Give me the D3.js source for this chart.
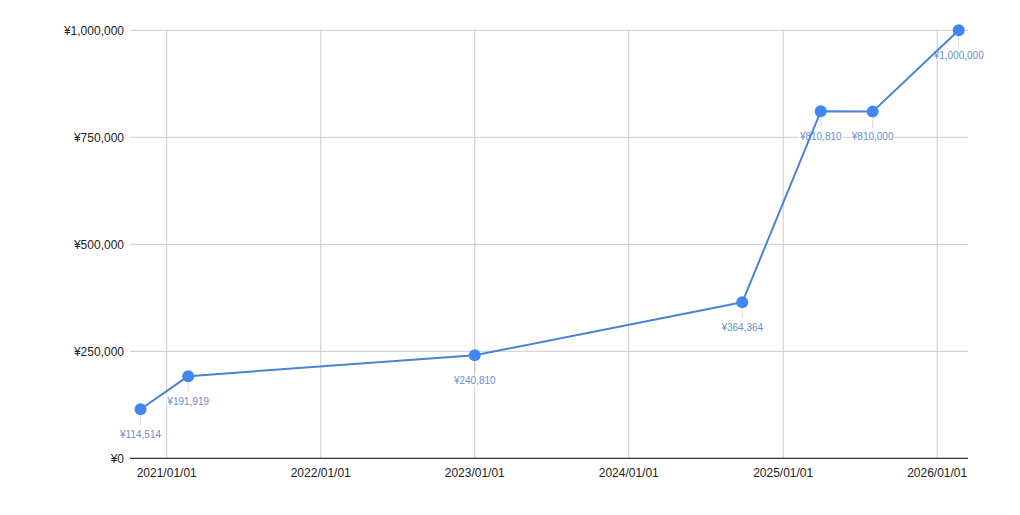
<!DOCTYPE html>
<html>
<head>
<meta charset="utf-8">
<script src="https://cdn.jsdelivr.net/npm/d3@7"></script>
<style>
  html, body { margin: 0; padding: 0; background: #fff; }
  svg { display: block; font-family: "Liberation Sans", Arial, sans-serif; }
</style>
</head>
<body>
<svg id="chart" width="1020" height="515"></svg>
<script>
// values
const dates  = ["2020-10-31", "2021-02-21", "2023-01-01", "2024-09-26", "2025-03-31", "2025-08-01", "2026-02-21"];
const values = [114514, 191919, 240810, 364364, 810810, 810000, 1000000];
const xTicks = ["2021-01-01", "2022-01-01", "2023-01-01", "2024-01-01", "2025-01-01", "2026-01-01"];
const yTicks = [0, 250000, 500000, 750000, 1000000];
const xDomain = ["2020-10-06", "2026-03-15"];

const parse = d3.timeParse("%Y-%m-%d");
const data = dates.map((d, i) => ({ date: parse(d), value: values[i] }));

const svg = d3.select("#chart");
const plotL = 130, plotR = 968, plotT = 30.3, plotB = 458.3;

const x = d3.scaleTime().domain(xDomain.map(parse)).range([plotL, plotR]);
const y = d3.scaleLinear().domain([0, 1000000]).range([plotB, plotT]);

const yen = v => "¥" + d3.format(",")(v);
const tickFmt = d3.timeFormat("%Y/%m/%d");

// gridlines
svg.append("g").selectAll("line").data(yTicks.filter(v => v > 0)).join("line")
  .attr("x1", plotL).attr("x2", plotR)
  .attr("y1", d => y(d)).attr("y2", d => y(d))
  .attr("stroke", "#cccccc").attr("stroke-width", 1);

svg.append("g").selectAll("line").data(xTicks.map(parse)).join("line")
  .attr("x1", d => x(d)).attr("x2", d => x(d))
  .attr("y1", plotT).attr("y2", plotB)
  .attr("stroke", "#cccccc").attr("stroke-width", 1);

// y axis labels
svg.append("g").selectAll("text").data(yTicks).join("text")
  .attr("x", 124).attr("y", d => y(d) + 4.3)
  .attr("text-anchor", "end")
  .attr("font-size", 12).attr("fill", "#222")
  .text(yen);

// x axis labels
svg.append("g").selectAll("text").data(xTicks.map(parse)).join("text")
  .attr("x", d => x(d)).attr("y", 477)
  .attr("text-anchor", "middle")
  .attr("font-size", 12).attr("fill", "#222")
  .text(tickFmt);

// baseline
svg.append("line")
  .attr("x1", plotL).attr("x2", plotR)
  .attr("y1", y(0)).attr("y2", y(0))
  .attr("stroke", "#333").attr("stroke-width", 1.2);

// annotation stems
svg.append("g").selectAll("line").data(data).join("line")
  .attr("x1", d => x(d.date)).attr("x2", d => x(d.date))
  .attr("y1", d => y(d.value) + 6).attr("y2", d => y(d.value) + 16)
  .attr("stroke", "#999").attr("stroke-opacity", 0.35).attr("stroke-width", 1);

// annotation labels
svg.append("g").selectAll("text").data(data).join("text")
  .attr("x", d => x(d.date)).attr("y", d => y(d.value) + 28.5)
  .attr("text-anchor", "middle")
  .attr("font-size", 10).attr("fill", "#6592ca")
  .attr("stroke", "#fff").attr("stroke-width", 3).attr("stroke-opacity", 0.9)
  .attr("paint-order", "stroke")
  .text(d => yen(d.value));

// series line
const line = d3.line().x(d => x(d.date)).y(d => y(d.value));
svg.append("path").datum(data)
  .attr("d", line)
  .attr("fill", "none")
  .attr("stroke", "#4a82d6").attr("stroke-width", 2)
  .attr("stroke-linejoin", "round");

// points
svg.append("g").selectAll("circle").data(data).join("circle")
  .attr("cx", d => x(d.date)).attr("cy", d => y(d.value))
  .attr("r", 6).attr("fill", "#4285f4");
</script>
</body>
</html>
